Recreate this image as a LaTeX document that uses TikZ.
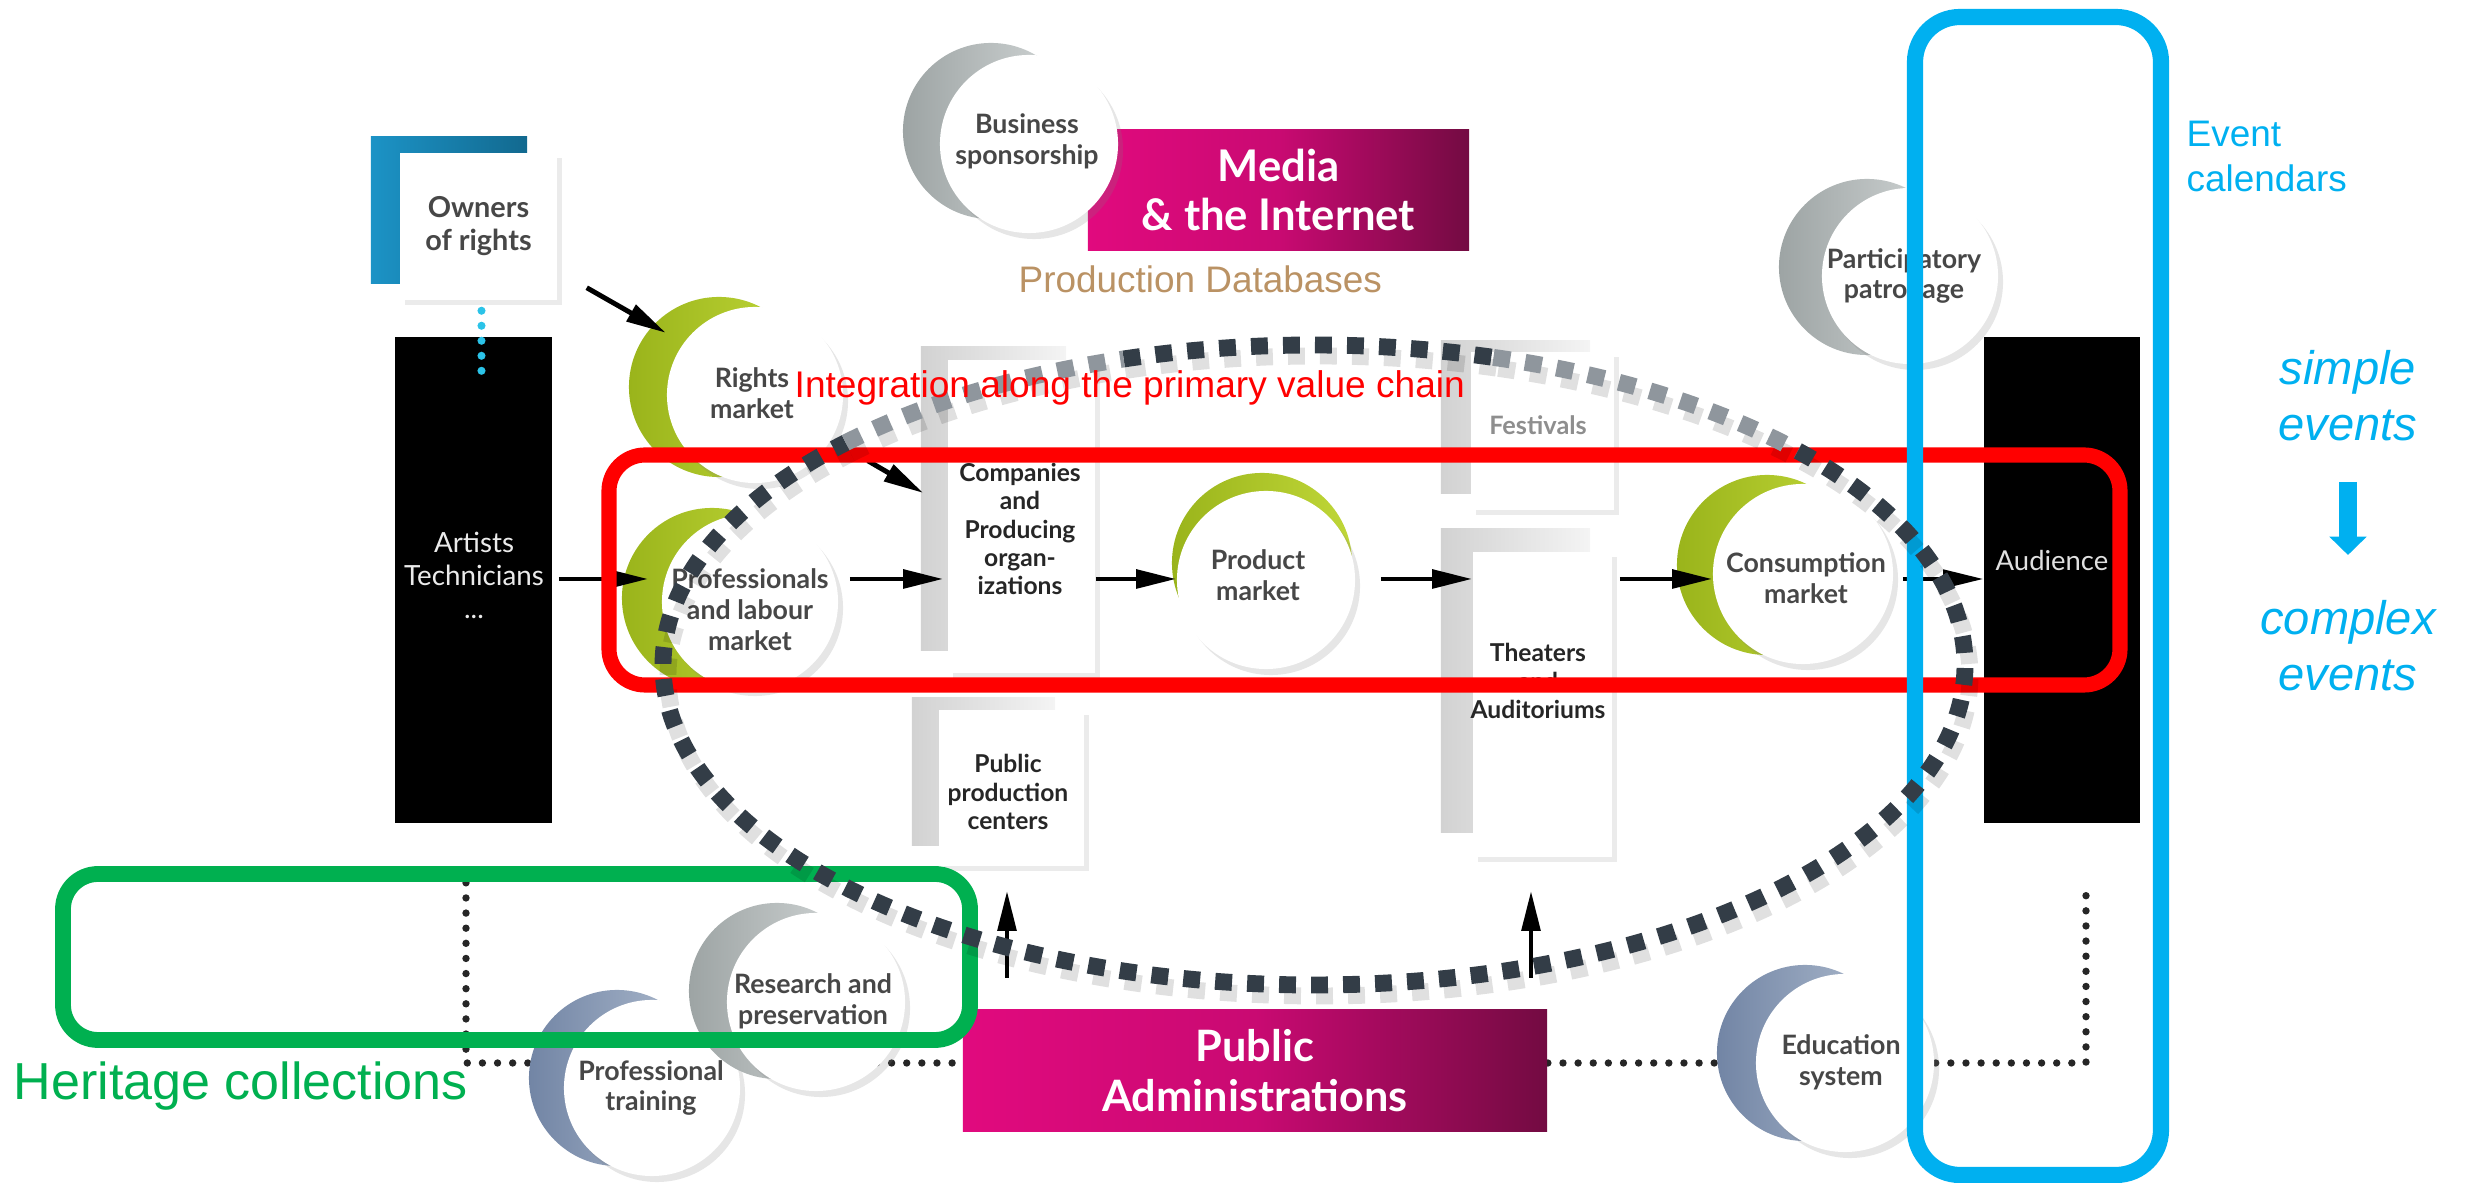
\documentclass[tikz,border=0pt]{standalone}
\usepackage{fontspec}
\newfontfamily\latof{Lato}
\newfontfamily\arialf{Liberation Sans}
\usetikzlibrary{arrows.meta,shadows}
\pgfdeclarelayer{bg}
\pgfsetlayers{bg,main}
\definecolor{grnL}{HTML}{9AB41B}
\definecolor{grnR}{HTML}{C0D738}
\definecolor{gryL}{HTML}{9DA4A4}
\definecolor{gryR}{HTML}{D5D9D9}
\definecolor{bluL}{HTML}{7285A5}
\definecolor{bluR}{HTML}{B0BDCF}
\definecolor{magL}{HTML}{E10A7E}
\definecolor{magM}{HTML}{C90A72}
\definecolor{magR}{HTML}{730B42}
\definecolor{ownL}{HTML}{1C93C6}
\definecolor{ownR}{HTML}{12698F}
\definecolor{panL}{HTML}{D2D2D2}
\definecolor{panR}{HTML}{F4F4F4}
\definecolor{txtg}{HTML}{474747}
\definecolor{festg}{HTML}{8E8E8E}
\definecolor{cyanA}{HTML}{00B0F0}
\definecolor{grnA}{HTML}{00B050}
\definecolor{tanA}{HTML}{BA9264}
\definecolor{ellD}{HTML}{333D47}
\definecolor{ellL}{HTML}{8F969D}
\definecolor{dotc}{HTML}{2BC3E8}
\newcommand{\ellarcs}[2]{%
  \draw[ell,#1] (1314,665) ++(-107:651 and 320) arc[start angle=-107,end angle=-74,x radius=651,y radius=320];
  \draw[ell,#1] (1314,665) ++(-42:651 and 320) arc[start angle=-42,end angle=224,x radius=651,y radius=320];
  \draw[ell,#2] (1314,665) ++(-136:651 and 320) arc[start angle=-136,end angle=-107,x radius=651,y radius=320];
  \draw[ell,#2] (1314,665) ++(-74:651 and 320) arc[start angle=-74,end angle=-42,x radius=651,y radius=320];}
\begin{document}
\begin{tikzpicture}[x=0.01cm,y=-0.01cm,
  backp/.style={rectangle,inner sep=0pt,left color=panL,right color=panR},
  frontp/.style={rectangle,inner sep=0pt,fill=white,drop shadow={shadow xshift=0.05cm,shadow yshift=-0.05cm,opacity=0.16}},
  blk/.style={rectangle,inner sep=0pt,fill=black},
  mag/.style={rectangle,inner sep=0pt,left color=magL,right color=magR,middle color=magM,text=white,align=center,font=\latof\bfseries\fontsize{12.4}{13.8}\selectfont},
  greenb/.style={circle,inner sep=0pt,left color=grnL,right color=grnR},
  greyb/.style={circle,inner sep=0pt,left color=gryL,right color=gryR},
  blueb/.style={circle,inner sep=0pt,left color=bluL,right color=bluR},
  disc/.style={circle,inner sep=0pt,fill=white,drop shadow={shadow xshift=0.05cm,shadow yshift=-0.06cm,opacity=0.2}},
  ctext/.style={inner sep=0pt,align=center,text=txtg,font=\latof\bfseries\fontsize{7.6}{8.8}\selectfont},
  boxtext/.style={inner sep=0pt,align=center,text=black!85,font=\latof\bfseries\fontsize{7}{8}\selectfont},
  arr/.style={line width=1.4pt,-{Triangle[length=11.4pt,width=5.2pt]}},
  dotline/.style={line width=2.1pt,dash pattern=on 0pt off 4.3pt,line cap=round,black!85},
  ell/.style={line width=4.8pt,dash pattern=on 4.8pt off 4.3pt},
  ellD/.style={draw=ellDc},
  ellL/.style={draw=ellLc},
  ellS/.style={draw=black,opacity=0.12}
]
\colorlet{ellDc}{ellD}
\colorlet{ellLc}{ellL}
\useasboundingbox (0,0) rectangle (2465,1183);

% ---------- owners of rights ----------
\node[rectangle,inner sep=0pt,left color=ownL,right color=ownR,minimum width=1.56cm,minimum height=1.46cm] (ownerb) at (449,210) {};
\node[frontp,minimum width=1.57cm,minimum height=1.47cm,align=center,text=txtg,font=\latof\bfseries\fontsize{8.2}{9.4}\selectfont] (owner) at (478.5,226.5) {Owners\\of rights};

% ---------- black columns ----------
\node[blk,minimum width=1.57cm,minimum height=4.86cm] (artists) at (473.5,580) {};
\node[inner sep=0pt,align=center,text=black!8,font=\latof\fontsize{7.9}{9.4}\selectfont] (artistst) at (474,575) {Artists\\Technicians\\...};
\node[blk,minimum width=1.56cm,minimum height=4.86cm] (audience) at (2062,580) {};
\node[inner sep=0pt,text=black!12,font=\latof\fontsize{7.8}{9}\selectfont] (audiencet) at (2052,561) {Audience};

% ---------- magenta blocks ----------
\node[mag,minimum width=3.81cm,minimum height=1.2cm] (media) at (1278.5,190) {Media\\\& the Internet};
\node[mag,minimum width=5.84cm,minimum height=1.21cm,font=\latof\bfseries\fontsize{12.3}{14}\selectfont] (pubadmin) at (1255,1070.5) {Public\\Administrations};

% ---------- panels ----------
\node[backp,minimum width=1.45cm,minimum height=3.03cm] (compb) at (993.5,498.5) {};
\node[frontp,minimum width=1.47cm,minimum height=3.13cm] (compf) at (1021.5,516.5) {};
\node[boxtext] (compt) at (1020,529) {Companies\\and\\Producing\\organ-\\izations};

\node[backp,minimum width=1.43cm,minimum height=1.47cm] (ppcb) at (983.5,771.5) {};
\node[frontp,minimum width=1.45cm,minimum height=1.56cm] (ppcf) at (1011.5,788) {};
\node[boxtext] (ppct) at (1008,792) {Public\\production\\centers};

\node[backp,minimum width=1.49cm,minimum height=1.52cm] (festb) at (1515.5,417) {};
\node[frontp,minimum width=1.43cm,minimum height=1.58cm] (festf) at (1542.5,431) {};
\node[boxtext,text=festg,font=\latof\bfseries\fontsize{7.2}{8}\selectfont] (festt) at (1538,425) {Festivals};

\node[backp,minimum width=1.49cm,minimum height=3.03cm] (theatb) at (1515.5,680.5) {};
\node[frontp,minimum width=1.39cm,minimum height=3.05cm] (theatf) at (1542.5,704.5) {};
\node[boxtext] (theatt) at (1538,681) {Theaters\\and\\Auditoriums};

% ---------- circles ----------
\node[greyb,minimum size=1.76cm] (bizb) at (991,131) {};
\node[disc,minimum size=1.78cm] (biz) at (1029,144) {};
\node[ctext] (bizt) at (1027,141) {Business\\sponsorship};

\node[greenb,minimum size=1.8cm] (rightsb) at (719,387) {};
\node[disc,minimum size=1.76cm] (rights) at (755,395) {};
\node[ctext] (rightst) at (752,393) {Rights\\market};

\node[greenb,minimum size=1.8cm] (profb) at (712,598) {};
\node[disc,minimum size=1.76cm] (prof) at (750,602) {};
\node[ctext] (proft) at (750,610) {Professionals\\and labour\\market};

\node[greenb,minimum size=1.8cm] (prodb) at (1262,563) {};
\node[disc,minimum size=1.78cm] (prod) at (1266,580) {};
\node[ctext] (prodt) at (1258,575) {Product\\market};

\node[greenb,minimum size=1.8cm] (consb) at (1767,565) {};
\node[disc,minimum size=1.8cm] (cons) at (1803,574) {};
\node[ctext] (const) at (1806,578) {Consumption\\market};

\node[greyb,minimum size=1.76cm] (partb) at (1867,267) {};
\node[disc,minimum size=1.76cm] (part) at (1910,276) {};
\node[ctext] (partt) at (1904,276) {Participatory\\patronage};

\node[blueb,minimum size=1.76cm] (ptrb) at (617,1078) {};
\node[disc,minimum size=1.76cm] (ptr) at (652,1088) {};
\node[ctext] (ptrt) at (651,1088) {Professional\\training};

\node[greyb,minimum size=1.76cm] (resb) at (777,991) {};
\node[disc,minimum size=1.78cm] (res) at (816,1002) {};
\node[ctext] (rest) at (813,1001) {Research and\\preservation};

\node[blueb,minimum size=1.76cm] (edub) at (1805,1053) {};
\node[disc,minimum size=1.78cm] (edu) at (1845,1063) {};
\node[ctext] (edut) at (1841,1062) {Education\\system};

% ---------- dotted links (behind) ----------
\coordinate (dl) at (0,1063);
\begin{pgfonlayer}{bg}
\draw[dotline] ([shift={(-7.5,59)}]artists.south) |- (ptrb.center |- dl);
\draw[dotline] (res.center |- dl) -- (pubadmin.west |- dl);
\draw[dotline] (pubadmin.east |- dl) -- (edub.center |- dl);
\draw[dotline] (edu.center |- dl) -| ([shift={(24,57)}]audience.south);
\end{pgfonlayer}

% ---------- arrows ----------
\coordinate (row) at (0,579);
\draw[arr] ([shift={(29,-13)}]owner.south east) -- ([shift={(11,10)}]rightsb.north west);
\draw[arr] ([shift={(50,3)}]rights.south east) -- ([shift={(3,-5.5)}]compb.west);
\draw[arr,shorten <=0.06cm,shorten >=0.13cm] (artists.east |- row) -- (prof.west |- row);
\draw[arr,shorten <=0.11cm,shorten >=0.04cm] (prof.east |- row) -- (compf.west |- row);
\draw[arr] (compf.east |- row) -- (prod.west |- row);
\draw[arr,shorten <=0.25cm] (prod.east |- row) -- (theatf.west |- row);
\draw[arr,shorten <=0.07cm] (theatf.east |- row) -- (cons.west |- row);
\draw[arr,line width=1.1pt,shorten <=0.09cm] (cons.east |- row) -- (audience.west |- row);
\coordinate (u1) at (1007,978);
\coordinate (u2) at (1531,978);
\draw[arr,shorten >=0.24cm] (u1) -- (u1 |- ppcf.south);
\draw[arr,shorten >=0.33cm] (u2) -- (u2 |- theatf.south);
\draw[line width=2.3pt,dash pattern=on 0pt off 4.27pt,line cap=round,dotc] ([shift={(3,10)}]owner.south) -- ([shift={(8,48)}]artists.north);

% ---------- overlays ----------
\draw[red,line width=4.3pt,rounded corners=0.36cm] (609,455) rectangle (2120,685);
\draw[grnA,line width=4.5pt,rounded corners=0.35cm] (63,874) rectangle (970,1040);
\draw[cyanA,line width=4.6pt,rounded corners=0.45cm] (1915,17) rectangle (2161,1175);

% ellipse shadow (aligned with dashes)
\begin{scope}[shift={(5,11)}]
\ellarcs{ellS}{ellS}
\end{scope}
% ellipse
\ellarcs{ellD}{ellL}

% ---------- annotation texts ----------
\node[inner sep=0pt,anchor=base west,text=red,font=\arialf\fontsize{10.55}{12}\selectfont] (integ) at (794,398) {Integration along the primary value chain};
\node[inner sep=0pt,anchor=base west,text=tanA,font=\arialf\fontsize{10.5}{12}\selectfont] (proddb) at (1018,293) {Production Databases};
\node[inner sep=0pt,anchor=base west,text=grnA,font=\arialf\fontsize{14.8}{17}\selectfont] (herit) at (13,1100) {Heritage collections};
\node[inner sep=0pt,anchor=west,align=left,text=cyanA,font=\arialf\fontsize{10.5}{12.8}\selectfont] (evcal) at (2186,156) {Event\\calendars};
\node[inner sep=0pt,align=center,text=cyanA,font=\arialf\itshape\fontsize{13.4}{15.9}\selectfont] (simpleev) at (2348,396) {simple\\events};
\node[inner sep=0pt,align=center,text=cyanA,font=\arialf\itshape\fontsize{13.4}{15.9}\selectfont] (complexev) at (2348,646) {complex\\events};
\coordinate (ca1) at (2348,482);
\coordinate (ca2) at (2348,555);
\draw[cyanA,line width=5.1pt,-{Triangle[length=5.2pt,width=10.3pt]}] (ca1) -- (ca2);
\end{tikzpicture}
\end{document}
